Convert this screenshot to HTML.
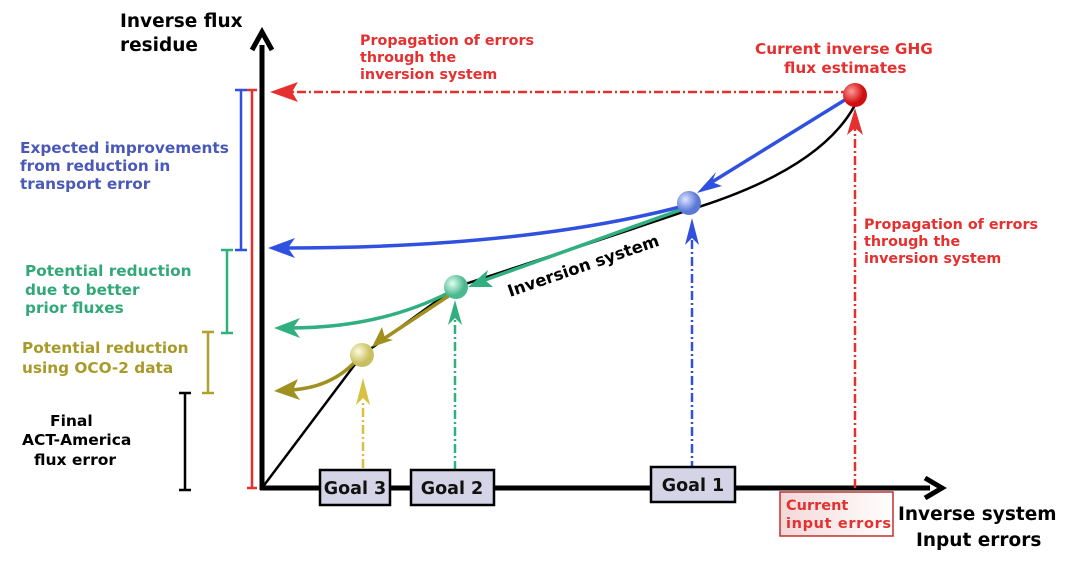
<!DOCTYPE html>
<html><head><style>
body{margin:0;background:#fff;width:1075px;height:561px;overflow:hidden}
text{font-family:"DejaVu Sans","Liberation Sans",sans-serif;font-weight:bold}
</style></head><body>
<svg width="1075" height="561" viewBox="0 0 1075 561">
<defs>
<radialGradient id="gr" cx="35%" cy="35%"><stop offset="0" stop-color="#ff9a9a"/><stop offset="1" stop-color="#d01010"/></radialGradient>
<radialGradient id="gb" cx="35%" cy="35%"><stop offset="0" stop-color="#dde4ff"/><stop offset="1" stop-color="#5a78d8"/></radialGradient>
<radialGradient id="gg" cx="35%" cy="35%"><stop offset="0" stop-color="#e0fff0"/><stop offset="1" stop-color="#4cb890"/></radialGradient>
<radialGradient id="gy" cx="35%" cy="35%"><stop offset="0" stop-color="#fffbe0"/><stop offset="1" stop-color="#c8c060"/></radialGradient>
<linearGradient id="cb" x1="0" x2="1"><stop offset="0" stop-color="#f4d8d8"/><stop offset="1" stop-color="#fff"/></linearGradient>
</defs>
<line x1="262" y1="490" x2="262" y2="45" stroke="#000" stroke-width="5"/>
<path d="M252,50 L262,32 L272,50" fill="none" stroke="#000" stroke-width="5"/>
<line x1="260" y1="488" x2="930" y2="488" stroke="#000" stroke-width="5"/>
<path d="M925,478 L942,488 L925,498" fill="none" stroke="#000" stroke-width="5"/>
<text x="120" y="27" font-size="18.5">Inverse flux</text>
<text x="120" y="51" font-size="18.5">residue</text>
<g stroke-width="2.5">
<path d="M252,90V488M247,90h10M247,488h10" stroke="#e53030"/>
<path d="M241,90V250M235,90h12M235,250h12" stroke="#3050e0"/>
<path d="M227,250V333M221,250h12M221,333h12" stroke="#30b080"/>
<path d="M208,332V393M202,332h12M202,393h12" stroke="#b0a030"/>
<path d="M185,393V490M179,393h12M179,490h12" stroke="#000"/>
</g>
<path d="M262,488 L362,355 L456,287 Q600,240 689,210 Q820,170 855,105" fill="none" stroke="#000" stroke-width="2.5"/>
<g fill="none" stroke-width="2.5" stroke-dasharray="9,3,2,3">
<line x1="850" y1="92" x2="290" y2="92" stroke="#e53030"/>
<line x1="855" y1="488" x2="855" y2="125" stroke="#e53030"/>
<line x1="692" y1="470" x2="692" y2="240" stroke="#3050e0"/>
<line x1="455" y1="470" x2="455" y2="320" stroke="#30b080"/>
<line x1="363" y1="468" x2="363" y2="400" stroke="#d8c040"/>
</g>
<path d="M270,92 L298,82 L292,92 L298,102Z" fill="#e53030"/>
<path d="M855,108 L847,135 L855,128 L863,135Z" fill="#e53030"/>
<path d="M692,218 L685,245 L692,238 L699,245Z" fill="#3050e0"/>
<path d="M455,300 L448,325 L455,318 L462,325Z" fill="#30b080"/>
<path d="M363,378 L356,405 L363,398 L370,405Z" fill="#d8c040"/>
<g fill="none" stroke-width="3.5">
<path d="M848,98 L712,182" stroke="#3050e0"/>
<path d="M680,207 Q520,248 285,248" stroke="#3050e0"/>
<path d="M680,210 L485,280" stroke="#30b080"/>
<path d="M450,292 Q380,328 290,328" stroke="#30b080"/>
<path d="M450,295 L385,338" stroke="#a09020"/>
<path d="M355,362 Q330,388 290,390" stroke="#a09020"/>
</g>
<path d="M697,193 L716,172 L712,182 L722,186Z" fill="#3050e0"/>
<path d="M268,248 L295,238 L288,248 L295,258Z" fill="#3050e0"/>
<path d="M468,287 L488,270 L485,280 L493,287Z" fill="#30b080"/>
<path d="M274,328 L300,318 L293,328 L300,338Z" fill="#30b080"/>
<path d="M372,347 L382,327 L385,338 L393,340Z" fill="#a09020"/>
<path d="M274,391 L298,379 L293,390 L300,400Z" fill="#a09020"/>
<circle cx="855" cy="95" r="12" fill="url(#gr)"/>
<circle cx="689" cy="203" r="12" fill="url(#gb)"/>
<circle cx="456" cy="287" r="12" fill="url(#gg)"/>
<circle cx="362" cy="355" r="12" fill="url(#gy)"/>
<text x="0" y="0" font-size="16.5" transform="translate(510,297) rotate(-19)">Inversion system</text>
<g stroke="#000" stroke-width="2.5" fill="#d4d4e6">
<rect x="320" y="470" width="70" height="35"/>
<rect x="411" y="470" width="83" height="35"/>
<rect x="651" y="467" width="84" height="35"/>
</g>
<g font-size="17.5" text-anchor="middle" fill="#111">
<text x="355" y="494">Goal 3</text><text x="452" y="494">Goal 2</text><text x="693" y="491">Goal 1</text>
</g>
<rect x="780" y="492" width="113" height="44" fill="url(#cb)" stroke="#c03030" stroke-width="1.5"/>
<text x="786" y="510" font-size="14.5" fill="#e53030">Current</text>
<text x="786" y="528" font-size="14.5" fill="#e53030" textLength="105">input errors</text>
<text x="898" y="520" font-size="18.5">Inverse system</text>
<text x="916" y="546" font-size="18.5">Input errors</text>
<g font-size="14.3" fill="#e53030">
<text x="360" y="45">Propagation of errors</text><text x="360" y="62">through the</text><text x="360" y="79">inversion system</text>
<text x="755" y="54" font-size="15.3">Current inverse GHG</text><text x="784" y="73" font-size="15.3">flux estimates</text>
<text x="864" y="229">Propagation of errors</text><text x="864" y="246">through the</text><text x="864" y="263">inversion system</text>
</g>
<g font-size="15.3" fill="#4a58b8">
<text x="20" y="153">Expected improvements</text><text x="20" y="171">from reduction in</text><text x="20" y="189">transport error</text>
</g>
<g font-size="15.3" fill="#30a878">
<text x="25" y="276">Potential reduction</text><text x="25" y="295">due to better</text><text x="25" y="313">prior fluxes</text>
</g>
<g font-size="15.3" fill="#a89a28">
<text x="22" y="353">Potential reduction</text><text x="22" y="373">using OCO-2 data</text>
</g>
<g font-size="15.5" fill="#000">
<text x="50" y="426">Final</text><text x="22" y="445">ACT-America</text><text x="34" y="465">flux error</text>
</g>
</svg>
</body></html>
